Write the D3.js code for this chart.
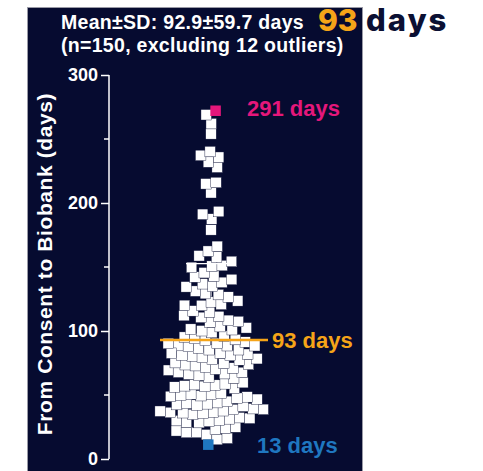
<!DOCTYPE html>
<html>
<head>
<meta charset="utf-8">
<script src="https://cdn.jsdelivr.net/npm/d3@7"></script>
<style>
  body { margin: 0; background: #fff; }
  svg { display: block; }
</style>
</head>
<body>
<svg id="chart" width="483" height="471"></svg>
<script>
// Days from consent to biobank (white points)
const days = [
  17, 19,
  21, 22, 24, 25, 26, 27, 28, 29,
  30, 31, 32, 33, 34, 34, 35, 35, 36, 36, 37, 37, 38, 38, 39, 39,
  40, 40, 41, 41, 42, 42, 43, 44, 44,
  45, 46, 47, 48, 49, 50, 51, 52, 53, 54, 55, 57,
  58, 59, 61, 62, 63, 65, 66, 67, 68, 69,
  70, 71, 71, 72, 73, 74, 74, 75, 76, 76, 77, 77, 78, 79, 80, 80,
  81, 82, 82, 83, 83, 84, 85, 86, 86, 87, 87, 88, 89, 90, 90, 91, 92,
  94, 95, 97, 98, 100, 101, 103, 104, 106, 107, 109,
  110, 112, 113, 115, 116, 118, 119, 121, 122, 124,
  126, 128, 130, 132, 134, 134, 136, 138, 140, 142,
  144, 146, 148, 150, 152, 154, 157, 159, 162, 166,
  179, 188, 191, 193, 208, 215, 216,
  229, 232, 235, 237, 240, 254, 262, 269
];
// Highlighted extremes (position as drawn, label as printed)
const extremeValues = [272, 13];
const extremeLabels = ["291 days", "13 days"];
const extremeColors = ["#e5177b", "#1f77c0"];

const meanDays = 92.9;
const sdDays = 59.7;
const titleLines = ["Mean\u00b1SD: 92.9\u00b159.7 days", "(n=150, excluding 12 outliers)"];
const bigNumber = "93";
const bigUnit = "days";
const meanLabel = "93 days";
const yLabel = "From Consent to Biobank (days)";
const yTicks = [0, 100, 200, 300];
const yMinorTicks = [50, 150, 250];

const svg = d3.select("#chart");
const navy = "#060b30";
const orange = "#f5a418";
const font = "'Liberation Sans', Arial, sans-serif";

// Dark panel
svg.append("rect")
  .attr("x", 27.5).attr("y", 7.5)
  .attr("width", 335).attr("height", 470)
  .attr("fill", navy)
  .attr("stroke", "#9a9aa6")
  .attr("stroke-width", 1);

const y = d3.scaleLinear().domain([0, 300]).range([459, 75]);
const cx = 211;

// Y axis
const axis = svg.append("g")
  .attr("transform", "translate(109,0)")
  .call(d3.axisLeft(y).tickValues(yTicks).tickSize(8).tickPadding(3).tickFormat(d3.format("d")));
axis.select(".domain").attr("stroke", "#fff").attr("stroke-width", 1.5).attr("d", "M0,75V459");
axis.selectAll(".tick line").attr("stroke", "#fff").attr("stroke-width", 1.5);
axis.selectAll(".tick text")
  .attr("fill", "#fff")
  .attr("font-family", font)
  .attr("font-weight", "bold")
  .attr("font-size", "18px");

svg.append("g")
  .selectAll("line")
  .data(yMinorTicks)
  .enter()
  .append("line")
  .attr("x1", 104).attr("x2", 109)
  .attr("y1", (d) => y(d)).attr("y2", (d) => y(d))
  .attr("stroke", "#fff")
  .attr("stroke-width", 1.5);

svg.append("text")
  .attr("transform", "translate(52,264) rotate(-90)")
  .attr("text-anchor", "middle")
  .attr("fill", "#fff")
  .attr("font-family", font)
  .attr("font-weight", "bold")
  .attr("font-size", "21px")
  .attr("letter-spacing", "0.6px")
  .text(yLabel);

// Title lines
svg.append("g")
  .selectAll("text")
  .data(titleLines)
  .enter()
  .append("text")
  .attr("x", 61)
  .attr("y", (d, i) => 29 + i * 23)
  .attr("fill", "#fff")
  .attr("font-family", font)
  .attr("font-weight", "bold")
  .attr("font-size", "19.5px")
  .attr("letter-spacing", "0.3px")
  .text((d) => d);

svg.append("text")
  .attr("x", 318).attr("y", 31)
  .attr("fill", orange)
  .attr("font-family", "Inter, 'Open Sans', sans-serif")
  .attr("font-weight", 800)
  .attr("font-size", "30px")
  .text(bigNumber);
svg.append("text")
  .attr("x", 366).attr("y", 31)
  .attr("fill", "#0b1033")
  .attr("font-family", "Inter, 'Open Sans', sans-serif")
  .attr("font-weight", 800)
  .attr("font-size", "31px")
  .attr("letter-spacing", "2px")
  .text(bigUnit);

// Swarm layout via force simulation (deterministic in d3-force v3)
const nodes = days.map((v) => ({ value: v, kind: -1 }))
  .concat(extremeValues.map((v, i) => ({ value: v, kind: i })));
nodes.forEach((d) => { d.x = cx; d.y = y(d.value); });
const sim = d3.forceSimulation(nodes)
  .force("x", d3.forceX(cx).strength(0.05))
  .force("y", d3.forceY((d) => y(d.value)).strength(1))
  .force("collide", d3.forceCollide(5.1))
  .stop();
for (let i = 0; i < 300; i++) sim.tick();

// Error bar (behind points)
const eb = svg.append("g").attr("stroke", "#fff").attr("stroke-width", 1.2);
eb.append("line").attr("x1", cx).attr("x2", cx)
  .attr("y1", y(meanDays + sdDays)).attr("y2", y(meanDays - sdDays));
eb.append("line").attr("x1", cx - 25).attr("x2", cx + 25)
  .attr("y1", y(meanDays - sdDays)).attr("y2", y(meanDays - sdDays));

const size = 10.5;
svg.append("g")
  .selectAll("rect")
  .data(nodes)
  .enter()
  .append("rect")
  .attr("x", (d) => d.x - size / 2)
  .attr("y", (d) => d.y - size / 2)
  .attr("width", size).attr("height", size)
  .attr("fill", (d) => (d.kind < 0 ? "#fff" : extremeColors[d.kind]))
  .attr("stroke", (d) => (d.kind < 0 ? navy : "none"))
  .attr("stroke-width", 0.4);

// Upper SD cap over points
svg.append("line")
  .attr("x1", cx - 25).attr("x2", cx + 25)
  .attr("y1", y(meanDays + sdDays)).attr("y2", y(meanDays + sdDays))
  .attr("stroke", "#fff").attr("stroke-width", 1.2);

// Mean line
svg.append("line")
  .attr("x1", 160).attr("x2", 268)
  .attr("y1", y(meanDays)).attr("y2", y(meanDays))
  .attr("stroke", orange).attr("stroke-width", 2.5);
svg.append("text")
  .attr("x", 272).attr("y", y(meanDays))
  .attr("dy", "0.35em")
  .attr("fill", orange)
  .attr("font-family", font)
  .attr("font-weight", "bold")
  .attr("font-size", "22px")
  .text(meanLabel);

// Extreme labels
svg.append("g")
  .selectAll("text")
  .data(extremeValues)
  .enter()
  .append("text")
  .attr("x", (d, i) => (i === 0 ? 247 : 257))
  .attr("y", (d, i) => (i === 0 ? 108 : 445))
  .attr("dy", "0.35em")
  .attr("fill", (d, i) => extremeColors[i])
  .attr("font-family", font)
  .attr("font-weight", "bold")
  .attr("font-size", "22px")
  .text((d, i) => extremeLabels[i]);
</script>
</body>
</html>
